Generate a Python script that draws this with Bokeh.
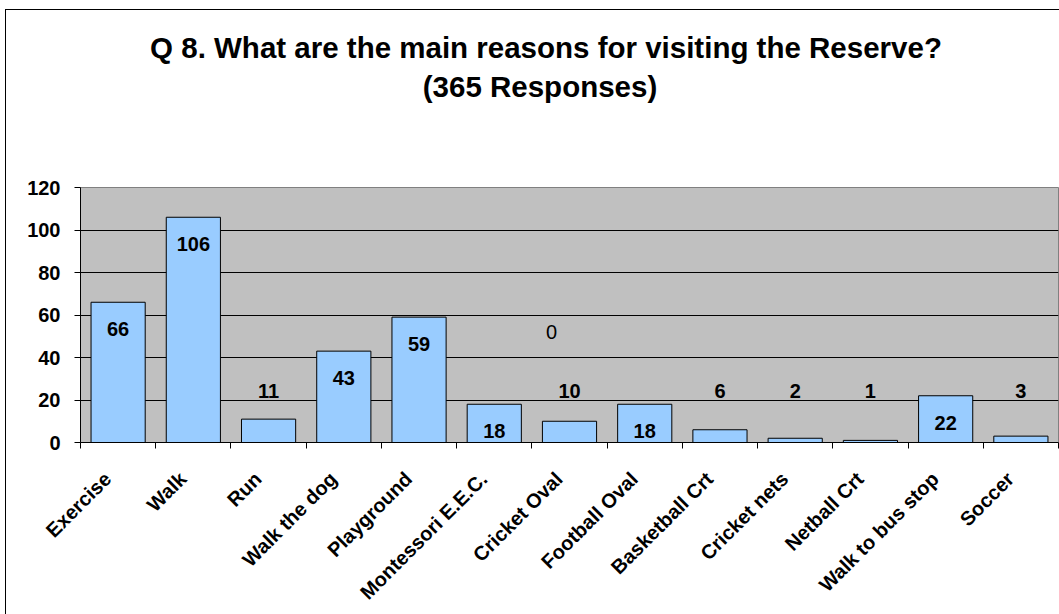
import math
from bokeh.plotting import figure
from bokeh.models import Range1d, FixedTicker, ColumnDataSource, Div
from bokeh.layouts import column
from bokeh.core.properties import value
from bokeh.embed import file_html
from bokeh.resources import INLINE

categories = ["Exercise", "Walk", "Run", "Walk the dog", "Playground", "Montessori E.E.C.",
              "Cricket Oval", "Football Oval", "Basketball Crt", "Cricket nets", "Netball Crt",
              "Walk to bus stop", "Soccer"]
counts = [66, 106, 11, 43, 59, 18, 10, 18, 6, 2, 1, 22, 3]
y_ticks = [0, 20, 40, 60, 80, 100, 120]
title_line1 = "Q 8. What are the main reasons for visiting the Reserve?"
title_line2 = "(365 Responses)"
stray_label = "0"

FONT = "Liberation Sans"
OX, OY = 6, 10                 # chart border position on the page
W = 1059 - OX
TITLE_H = 162                  # height of the title strip below the top border
FIG_H = 614 - OY - TITLE_H
FT = 187 - OY - TITLE_H        # frame top inside the figure
FB = 444 - OY - TITLE_H        # frame bottom inside the figure
FL, FR = 80 - OX, 1058 - OX
NX = len(categories)

title_div = Div(width=W, height=TITLE_H, margin=0, text=(
    f'<div style="position:relative;width:{W}px;height:{TITLE_H}px;'
    f'font-family:\'{FONT}\';font-weight:bold;font-size:29.5px;color:black;">'
    f'<span style="position:absolute;left:{546 - OX}px;top:{48 - OY}px;'
    f'transform:translate(-50%,-50%);white-space:nowrap;">{title_line1}</span>'
    f'<span style="position:absolute;left:{540 - OX}px;top:{87 - OY}px;'
    f'transform:translate(-50%,-50%);white-space:nowrap;">{title_line2}</span></div>'))

p = figure(width=W, height=FIG_H, output_backend="svg", toolbar_location=None, title=None,
           x_range=Range1d(0, NX), y_range=Range1d(0, 120),
           min_border_left=FL, min_border_right=W - FR, min_border_top=FT,
           min_border_bottom=FIG_H - FB)
p.background_fill_color = "#C0C0C0"
p.border_fill_color = "white"
p.outline_line_color = "#808080"
p.outline_line_width = 1

xs = [i + 0.5 for i in range(NX)]
src = ColumnDataSource(dict(x=xs, top=counts))
p.vbar(x="x", top="top", width=0.72, bottom=0, source=src,
       fill_color="#99CCFF", line_color="black", line_width=1)

# data labels
inside = [i for i, c in enumerate(counts) if c >= 18]
outside = [i for i, c in enumerate(counts) if c < 18]
src_in = ColumnDataSource(dict(x=[xs[i] for i in inside], y=[counts[i] for i in inside],
                               t=[str(counts[i]) for i in inside]))
src_out = ColumnDataSource(dict(x=[xs[i] for i in outside], y=[max(counts[i], 23) for i in outside],
                                t=[str(counts[i]) for i in outside]))
p.text(x="x", y="y", text="t", source=src_in, y_offset=27, text_align="center",
       text_baseline="middle", text_font=value(FONT), text_font_style="bold",
       text_font_size="20px", text_color="black")
p.text(x="x", y="y", text="t", source=src_out, y_offset=-3, text_align="center",
       text_baseline="middle", text_font=value(FONT), text_font_style="bold",
       text_font_size="20px", text_color="black")
p.text(x=[xs[6]], y=[52], text=[stray_label], x_offset=-18, text_align="center",
       text_baseline="middle", text_font=value(FONT), text_font_size="20px", text_color="black")

# axes
p.yaxis.ticker = FixedTicker(ticks=y_ticks)
p.yaxis.axis_line_color = "black"
p.yaxis.major_tick_line_color = "black"
p.yaxis.major_tick_out = 6
p.yaxis.major_tick_in = 0
p.yaxis.minor_tick_line_color = None
p.yaxis.major_label_text_font = FONT
p.yaxis.major_label_text_font_style = "bold"
p.yaxis.major_label_text_font_size = "20px"
p.yaxis.major_label_text_color = "black"
p.yaxis.major_label_standoff = 14

label_pos = [x - 0.14 for x in xs]  # label anchor slightly left of bar centre, as in Excel
p.xaxis.ticker = FixedTicker(ticks=label_pos, minor_ticks=list(range(NX + 1)))
p.xaxis.major_label_overrides = {x: c for x, c in zip(label_pos, categories)}
p.xaxis.axis_line_color = "black"
p.xaxis.major_tick_line_color = None
p.xaxis.minor_tick_line_color = "black"
p.xaxis.minor_tick_out = 6
p.xaxis.minor_tick_in = 0
p.xaxis.major_label_orientation = math.pi / 4
p.xaxis.major_label_text_font = FONT
p.xaxis.major_label_text_font_style = "bold"
p.xaxis.major_label_text_font_size = "20px"
p.xaxis.major_label_text_color = "black"
p.xaxis.major_label_standoff = 27

p.xgrid.grid_line_color = None
p.ygrid.ticker = FixedTicker(ticks=y_ticks[1:-1])
p.ygrid.grid_line_color = "black"
p.ygrid.grid_line_width = 1

layout = column(title_div, p, spacing=0)
layout.styles = {"margin-left": f"{OX - 1}px", "margin-top": f"{OY - 1}px",
                 "border-left": "1px solid black", "border-top": "1px solid black",
                 "background-color": "white"}

open("out.html", "w").write(file_html(layout, INLINE))
